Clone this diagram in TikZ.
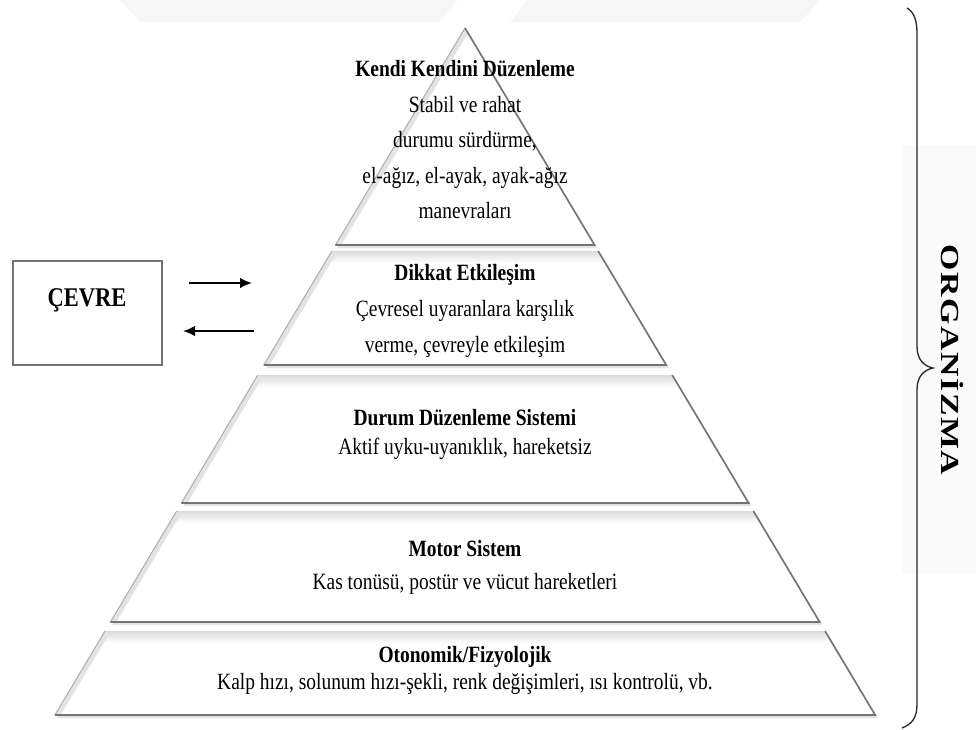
\documentclass[tikz,border=0pt]{standalone}
\usepackage{fontspec}
\setmainfont[FakeStretch=0.835]{Liberation Serif}
\newfontfamily\orgfont{Liberation Serif}
\usetikzlibrary{arrows.meta}
\definecolor{edgedark}{gray}{0.45}
\definecolor{edgelight}{gray}{0.68}
\newcommand\pyrlayer[2]{%
\pgfmathsetmacro\ptl{465-0.597*(#1-28)}%
\pgfmathsetmacro\ptr{465+0.597*(#1-28)}%
\pgfmathsetmacro\pbl{465-0.597*(#2-28)}%
\pgfmathsetmacro\pbr{465+0.597*(#2-28)}%
\fill[gray!22] (\ptl+2,#1+3) -- (\ptr+3,#1+3) -- (\pbr+3,#2+3) -- (\pbl+2,#2+3) -- cycle;
\begin{scope}
\clip (\ptl,#1) -- (\ptr,#1) -- (\pbr,#2) -- (\pbl,#2) -- cycle;
\fill[white] (\pbl,#1) rectangle (\pbr,#2);
\shade[top color=gray!28, bottom color=white] (\pbl,#1) rectangle (\pbr,#1+12);
\draw[gray!22, line width=10pt] (\ptl,#1) -- (\pbl,#2);
\end{scope}
\draw[edgelight, line width=1pt] (\ptl,#1) -- (\pbl,#2);
\draw[edgedark, line width=1.6pt, line join=miter] (\ptr,#1) -- (\pbr,#2) -- (\pbl,#2);
}
\tikzset{
  lbl/.style={align=center, inner sep=0pt, font=\fontsize{23.3}{#1}\selectfont},
  envbox/.style={draw=edgedark, line width=1.6pt, fill=white, minimum width=149pt, minimum height=104pt, inner sep=0pt},
  flowarrow/.style={line width=1.8pt, -{Latex[length=12pt,width=10.5pt]}},
  bracestyle/.style={line width=1.3pt, black!85}
}
\begin{document}
\begin{tikzpicture}[x=1pt,y=-1pt]
\useasboundingbox (0,0) rectangle (976,729);
\fill[white] (0,0) rectangle (976,729);
% faint background watermark
\fill[gray!7] (120,0) -- (458,0) -- (438,22) -- (140,22) -- cycle;
\fill[gray!7] (528,0) -- (820,0) -- (800,22) -- (510,22) -- cycle;
\fill[gray!4] (902,145) rectangle (976,573);
% pyramid layers
\pyrlayer{28}{245}
\pyrlayer{251}{365}
\pyrlayer{375}{503}
\pyrlayer{511}{622}
\pyrlayer{631}{715}
% layer texts
\node[lbl=35.5] (l1) at (465,140) {\textbf{Kendi Kendini Düzenleme}\\Stabil ve rahat\\durumu sürdürme,\\el-ağız, el-ayak, ayak-ağız\\manevraları};
\node[lbl=36] (l2) at (465,311) {\textbf{Dikkat Etkileşim}\\Çevresel uyaranlara karşılık\\verme, çevreyle etkileşim};
\node[lbl=29] (l3) at (465,434) {\textbf{Durum Düzenleme Sistemi}\\Aktif uyku-uyanıklık, hareketsiz};
\node[lbl=33] (l4) at (465,567) {\textbf{Motor Sistem}\\Kas tonüsü, postür ve vücut hareketleri};
\node[lbl=27] (l5) at (465,670) {\textbf{Otonomik/Fizyolojik}\\Kalp hızı, solunum hızı-şekli, renk değişimleri, ısı kontrolü, vb.};
% environment box
\node[envbox] (cevre) at (87.5,313) {};
\node[inner sep=0pt, font=\fontsize{27}{30}\selectfont\bfseries] (cevretxt) at (87,300) {ÇEVRE};
% arrows
\coordinate (a1s) at (189,283);
\coordinate (a1e) at (252,283);
\coordinate (a2s) at (254,331);
\coordinate (a2e) at (183,331);
\draw[flowarrow] (a1s) -- (a1e);
\draw[flowarrow] (a2s) -- (a2e);
% brace
\draw[bracestyle] (907,8) .. controls (914,12) and (917,20) .. (917,34) -- (917,346)
  .. controls (917,360) and (924,366) .. (933,368)
  .. controls (924,370) and (917,376) .. (917,390) -- (917,704)
  .. controls (917,718) and (912,724) .. (902,728);
\node[rotate=-90, inner sep=0pt, font=\orgfont\fontsize{26}{28}\selectfont\bfseries] (org) at (952,360)
  {\scalebox{1.3}[1]{O\kern1.2pt R\kern1.2pt G\kern1.2pt A\kern1.2pt N\kern1.2pt İ\kern1.2pt Z\kern1.2pt M\kern1.2pt A}};
\end{tikzpicture}
\end{document}
